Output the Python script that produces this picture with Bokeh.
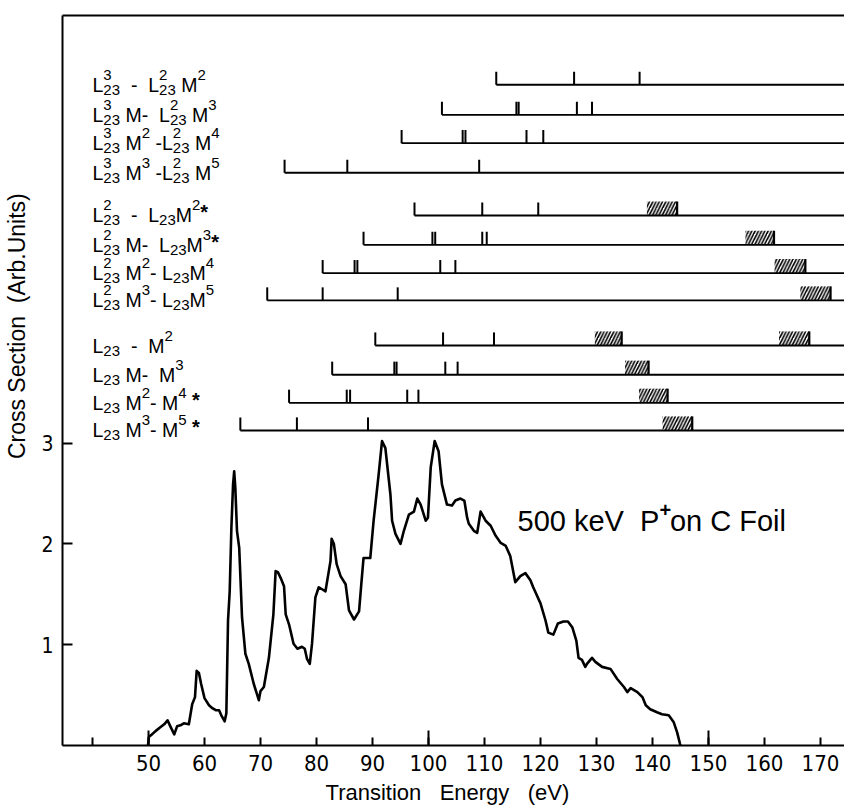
import math
from bokeh.plotting import figure
from bokeh.models import ColumnDataSource, FixedTicker, LinearAxis, Range1d
from bokeh.embed import file_html
from bokeh.resources import INLINE
from bokeh.core.properties import value

# ---------------- data ----------------
energy = [49.9, 50.1, 50.4, 51.2, 52.1, 52.8, 53.4, 53.9, 54.6, 55.1, 55.7, 56.3, 57.2, 57.8,
          58.3, 58.6, 59.0, 59.4, 60.0, 60.8, 61.4, 62.0, 62.6, 63.0, 63.6, 63.9, 64.2, 64.5,
          64.8, 65.1, 65.3, 65.5, 65.8, 66.2, 66.7, 67.3, 67.9, 68.8, 69.7, 70.0, 70.6, 71.5,
          72.3, 72.7, 73.1, 73.7, 74.2, 74.5, 75.1, 75.9, 76.6, 77.4, 77.9, 78.3, 78.8, 79.2,
          79.8, 80.4, 81.0, 81.6, 82.2, 82.5, 82.7, 83.1, 83.6, 84.3, 85.2, 85.8, 86.7, 87.6,
          88.0, 88.4, 89.6, 90.2, 91.1, 91.7, 92.3, 93.2, 93.5, 94.1, 95.0, 95.6, 96.5, 97.4,
          98.0, 98.6, 99.5, 99.9, 100.4, 101.1, 101.8, 102.4, 103.3, 104.2, 104.8, 105.7, 106.4,
          106.9, 107.2, 108.1, 108.7, 109.3, 110.2, 111.1, 112.0, 112.9, 113.8, 114.6, 115.5,
          116.4, 117.3, 118.2, 118.7, 120.0, 120.9, 121.4, 122.3, 123.1, 124.1, 124.9, 125.7,
          126.4, 126.8, 127.4, 128.0, 128.3, 129.2, 129.8, 131.0, 132.5, 133.7, 134.9, 135.5,
          136.1, 137.3, 138.2, 138.8, 139.6, 140.8, 141.7, 142.9, 143.8, 144.4, 144.9, 145.0]
cross_section = [0.0, 0.09, 0.10, 0.14, 0.18, 0.21, 0.25, 0.19, 0.11, 0.19, 0.20, 0.22, 0.21, 0.41,
                 0.48, 0.74, 0.72, 0.61, 0.47, 0.40, 0.37, 0.35, 0.35, 0.30, 0.24, 0.32, 1.24, 1.53,
                 2.16, 2.59, 2.72, 2.56, 2.13, 1.96, 1.27, 0.91, 0.81, 0.61, 0.45, 0.54, 0.58, 0.87,
                 1.30, 1.73, 1.72, 1.65, 1.58, 1.30, 1.20, 1.01, 0.96, 0.98, 0.96, 0.86, 0.81, 1.01,
                 1.47, 1.57, 1.55, 1.53, 1.73, 1.83, 2.05, 2.00, 1.80, 1.68, 1.60, 1.34, 1.25, 1.33,
                 1.60, 1.86, 1.86, 2.23, 2.69, 3.02, 2.95, 2.49, 2.23, 2.10, 2.00, 2.13, 2.29, 2.32,
                 2.45, 2.39, 2.23, 2.26, 2.76, 3.02, 2.92, 2.59, 2.39, 2.38, 2.43, 2.45, 2.43,
                 2.26, 2.20, 2.13, 2.11, 2.32, 2.23, 2.18, 2.08, 2.01, 1.98, 1.88, 1.62,
                 1.68, 1.71, 1.64, 1.57, 1.41, 1.24, 1.12, 1.10, 1.21, 1.23, 1.23, 1.17,
                 1.04, 0.87, 0.85, 0.78, 0.81, 0.87, 0.83, 0.78, 0.76, 0.66, 0.58, 0.53,
                 0.57, 0.53, 0.48, 0.40, 0.36, 0.33, 0.31, 0.30, 0.23, 0.13, 0.02, 0.0]

row_labels = [
    "L_{23}^{3}  -  L_{23}^{2} M^{2}",
    "L_{23}^{3} M-  L_{23}^{2} M^{3}",
    "L_{23}^{3} M^{2} -L_{23}^{2} M^{4}",
    "L_{23}^{3} M^{3} -L_{23}^{2} M^{5}",
    "L_{23}^{2}  -  L_{23}M^{2}*",
    "L_{23}^{2} M-  L_{23}M^{3}*",
    "L_{23}^{2} M^{2}- L_{23}M^{4}",
    "L_{23}^{2} M^{3}- L_{23}M^{5}",
    "L_{23}  -  M^{2}",
    "L_{23} M-  M^{3}",
    "L_{23} M^{2}- M^{4} *",
    "L_{23} M^{3}- M^{5} *",
]
row_y = [6.555, 6.257, 5.975, 5.682, 5.258, 4.967, 4.686, 4.415, 3.968, 3.678, 3.400, 3.125]
row_start = [112.1, 102.4, 95.2, 74.3, 97.5, 88.4, 81.1, 71.2, 90.5, 82.8, 75.1, 66.4]
row_ticks = [
    [126.0, 137.7],
    [115.7, 116.1, 126.5, 129.2],
    [106.1, 106.6, 117.5, 120.5],
    [85.5, 109.05],
    [109.6, 119.6],
    [100.7, 101.2, 109.6, 110.4],
    [86.8, 87.3, 102.1, 104.8],
    [81.1, 94.5],
    [102.6, 111.7],
    [93.9, 94.3, 103.0, 105.2],
    [85.4, 86.0, 96.2, 98.2],
    [76.5, 89.2],
]
row_boxes = [
    [], [], [], [],
    [(139.0, 144.4)],
    [(156.6, 161.7)],
    [(161.8, 167.3)],
    [(166.4, 171.8)],
    [(129.7, 134.5), (162.6, 168.0)],
    [(135.1, 139.3)],
    [(137.6, 142.7)],
    [(141.8, 147.1)],
]

x_ticks = list(range(40, 171, 10))
x_unlabelled = [40]
long_x_ticks = [50, 100, 150]
y_ticks = [1, 2, 3]

NB = "\u00a0"
x_title = "Transition" + NB * 3 + "Energy" + NB * 3 + "(eV)" + NB * 2
y_title = NB * 17 + "Cross Section" + NB * 2 + "(Arb.Units)"
note_parts = ["500 keV" + NB + " P", "+", "on C Foil"]

# ---------------- layout constants ----------------
ROW_END = 176.0
TICK_H = 0.13
BOX_H = 0.14
LONG_TICK_H = 0.15
LABEL_X = 40.0
BASE_PX, SCRIPT_PX, STAR_PX = 19.5, 15.0, 20.0
FONT = "Liberation Sans"
NUM_FONT = "DejaVu Sans Condensed"

ARIAL = {'L': 0.556, 'M': 0.833, '-': 0.333, ' ': 0.278, NB: 0.278, '*': 0.389, 'k': 0.5,
         'e': 0.556, 'V': 0.667, 'P': 0.667, '+': 0.584, 'o': 0.556, 'n': 0.556, 'C': 0.722,
         'F': 0.611, 'i': 0.222, 'l': 0.222}


def tw(s, size):
    return sum(ARIAL.get(c, 0.556) for c in s) * size


def layout(markup):
    out = []
    cur = 0.0
    i = 0
    n = len(markup)
    while i < n:
        c = markup[i]
        if c in "_^":
            sup = sub = ""
            while i < n and markup[i] in "_^":
                kind = markup[i]
                j = markup.index("}", i)
                s = markup[i + 2:j]
                if kind == "^":
                    sup = s
                else:
                    sub = s
                i = j + 1
            if sup:
                out.append((sup, "sup", cur))
            if sub:
                out.append((sub, "sub", cur))
            cur += max(tw(sup, SCRIPT_PX), tw(sub, SCRIPT_PX))
            continue
        if c == "*":
            out.append(("*", "star", cur))
            cur += tw("*", STAR_PX)
        elif c != " ":
            out.append((c, "base", cur))
            cur += tw(c, BASE_PX)
        else:
            cur += tw(c, BASE_PX)
        i += 1
    return out


# ---------------- figure ----------------
p = figure(width=844, height=810, x_range=Range1d(34.64, 174.29), y_range=Range1d(0, 7.242),
           output_backend="svg", toolbar_location=None,
           min_border_left=62, min_border_right=0, min_border_top=15, min_border_bottom=65)
p.grid.visible = False
p.outline_line_color = None
p.background_fill_color = "white"
p.border_fill_color = "white"

# spectrum
p.line(energy, cross_section, line_width=2.6, line_color="black", line_join="round")

# transition rows
p.segment(x0=row_start, y0=row_y, x1=[ROW_END] * len(row_y), y1=row_y,
          line_color="black", line_width=1.8)
vx, vy0, vy1 = [], [], []
for s, ticks, y in zip(row_start, row_ticks, row_y):
    for e in [s] + ticks:
        vx.append(e)
        vy0.append(y)
        vy1.append(y + TICK_H)
p.segment(x0=vx, y0=vy0, x1=vx, y1=vy1, line_color="black", line_width=2)

bl, br, bb = [], [], []
for boxes, y in zip(row_boxes, row_y):
    for a, b in boxes:
        bl.append(a)
        br.append(b)
        bb.append(y)
p.quad(left=bl, right=br, bottom=bb, top=[b + BOX_H for b in bb],
       fill_color=None, line_color=None, hatch_pattern="/", hatch_color="black",
       hatch_scale=6.5, hatch_weight=1.6)
p.segment(x0=br, y0=bb, x1=br, y1=[b + BOX_H for b in bb], line_color="black", line_width=2.2)

# row labels
groups = {"base": ([], [], [], []), "sup": ([], [], [], []), "sub": ([], [], [], []),
          "star": ([], [], [], [])}
for lab, y in zip(row_labels, row_y):
    for txt, kind, dx in layout(lab):
        g = groups[kind]
        g[0].append(LABEL_X)
        g[1].append(y)
        g[2].append(txt)
        g[3].append(dx)
styles = {"base": (BASE_PX, 0, "normal"), "sup": (SCRIPT_PX, -10, "normal"),
          "sub": (SCRIPT_PX, 5, "normal"), "star": (STAR_PX, -3, "bold")}
for kind, (xs, ys, ts, dxs) in groups.items():
    size, dy, style = styles[kind]
    src = ColumnDataSource(dict(x=xs, y=ys, text=ts, dx=dxs, dy=[dy] * len(xs)))
    p.text(x="x", y="y", text="text", x_offset="dx", y_offset="dy", source=src,
           text_font=value(FONT), text_font_size=value(f"{size}px"), text_font_style=style,
           text_align="left", text_baseline="alphabetic", text_color="black")

# note "500 keV P+ on C Foil"
NOTE_X, NOTE_Y, NOTE_PX, PLUS_PX = 115.9, 2.232, 29, 20
off1 = tw(note_parts[0], NOTE_PX)
off2 = off1 + tw(note_parts[1], PLUS_PX) * 0.9
nsrc = ColumnDataSource(dict(x=[NOTE_X, NOTE_X], y=[NOTE_Y, NOTE_Y],
                             text=[note_parts[0], note_parts[2]], dx=[0.0, off2]))
p.text(x="x", y="y", text="text", x_offset="dx", source=nsrc,
       text_font=value(FONT), text_font_size=value(f"{NOTE_PX}px"),
       text_align="left", text_baseline="alphabetic", text_color="black")
psrc = ColumnDataSource(dict(x=[NOTE_X], y=[NOTE_Y], text=[note_parts[1]], dx=[off1]))
p.text(x="x", y="y", text="text", x_offset="dx", y_offset=-11, source=psrc,
       text_font=value(FONT), text_font_size=value(f"{PLUS_PX}px"), text_font_style="bold",
       text_align="left", text_baseline="alphabetic", text_color="black")

# axes
xa = p.xaxis[0]
xa.ticker = FixedTicker(ticks=x_ticks, minor_ticks=[])
xa.major_label_overrides = {t: "" for t in x_unlabelled}
xa.major_tick_in = 8
xa.major_tick_out = 0
xa.minor_tick_in = 0
xa.minor_tick_out = 0
xa.major_tick_line_width = 2
xa.axis_line_width = 2
xa.major_label_text_font = NUM_FONT
xa.major_label_text_font_size = "22px"
xa.major_label_standoff = 9
xa.major_label_text_color = "black"
xa.axis_label = x_title
xa.axis_label_text_font = FONT
xa.axis_label_text_font_size = "22px"
xa.axis_label_text_font_style = "normal"
xa.axis_label_standoff = 6
xa.axis_label_text_color = "black"

ya = p.yaxis[0]
ya.ticker = FixedTicker(ticks=y_ticks, minor_ticks=[])
ya.major_tick_in = 10
ya.major_tick_out = 0
ya.minor_tick_in = 0
ya.minor_tick_out = 0
ya.major_tick_line_width = 2
ya.axis_line_width = 2
ya.major_label_text_font = NUM_FONT
ya.major_label_text_font_size = "21px"
ya.major_label_standoff = 9
ya.major_label_text_color = "black"
ya.axis_label = y_title
ya.axis_label_text_font = FONT
ya.axis_label_text_font_size = "23px"
ya.axis_label_text_font_style = "normal"
ya.axis_label_standoff = 8
ya.axis_label_text_color = "black"

top = LinearAxis(ticker=FixedTicker(ticks=[]), major_label_text_font_size="0px",
                 major_tick_in=0, major_tick_out=0, minor_tick_in=0, minor_tick_out=0,
                 axis_line_width=2, major_label_standoff=0)
p.add_layout(top, "above")

p.segment(x0=long_x_ticks, y0=[0] * len(long_x_ticks), x1=long_x_ticks,
          y1=[LONG_TICK_H] * len(long_x_ticks), line_color="black", line_width=2)

open("out.html", "w").write(file_html(p, INLINE))
